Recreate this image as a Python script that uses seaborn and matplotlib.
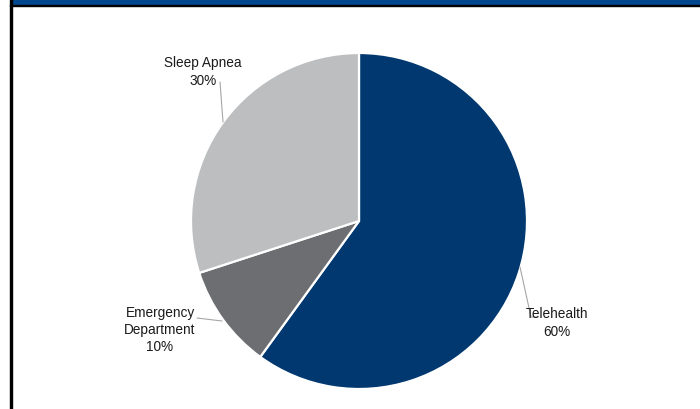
import matplotlib
matplotlib.use("Agg")
import matplotlib.pyplot as plt
import seaborn as sns
from matplotlib.patches import Rectangle

categories = ["Telehealth", "Emergency\nDepartment", "Sleep Apnea"]
values = [60, 10, 30]
colors = ["#00386F", "#6D6E71", "#BCBEC0"]

sns.set_theme(style="white")
plt.rcParams["font.family"] = ["Liberation Sans", "DejaVu Sans"]

fig = plt.figure(figsize=(7, 4.1), dpi=100)
ax = fig.add_axes([0, 0, 1, 1])

cx, cy, r = 359, 188, 168
ax.pie(values, colors=colors, startangle=90, counterclock=False,
       center=(cx, cy), radius=r,
       wedgeprops=dict(edgecolor="white", linewidth=1.6))
ax.set_xlim(0, 700)
ax.set_ylim(0, 410)
ax.set_aspect("equal")
ax.axis("off")

# labels
labels = [f"{c}\n{v}%" for c, v in zip(categories, values)]
pos = [(557, 87), (160, 80), (203, 338)]
for lab, (x, y) in zip(labels, pos):
    ax.text(x, y, lab, ha="center", va="center", fontsize=9.8,
            color="#1a1a1a", linespacing=1.3)

lc = "#A6A6A6"
ax.plot([520, 531, 538], [142, 92, 92], color=lc, lw=0.8)
ax.plot([197, 222], [91, 88], color=lc, lw=0.8)
ax.plot([220, 223], [327, 287], color=lc, lw=0.8)

# frame decoration (title bar cut off at top)
W, H = 700, 410
fig.patches.append(Rectangle((12 / W, 1 - 5.7 / H), 1, 5.7 / H,
                             transform=fig.transFigure, color="#00478D", zorder=5))
fig.patches.append(Rectangle((10 / W, 1 - 7.3 / H), 1, 1.6 / H,
                             transform=fig.transFigure, color="black", zorder=6))
fig.patches.append(Rectangle((10 / W, 0), 2 / W, 1,
                             transform=fig.transFigure, color="black", zorder=6))

fig.savefig("out.png", dpi=100)
